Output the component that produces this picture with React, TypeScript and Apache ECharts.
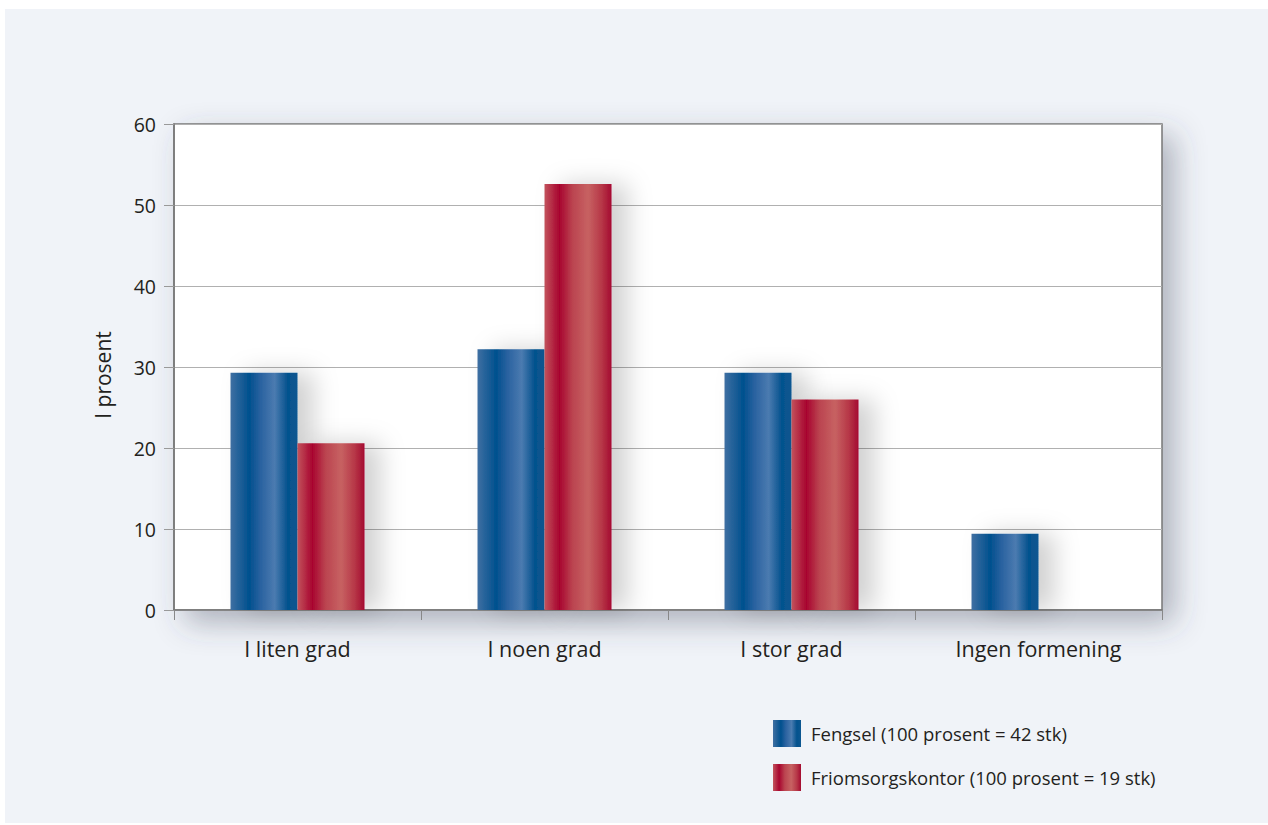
import React, { useEffect, useRef } from "react";
import * as echarts from "echarts";

const categories = ["I liten grad", "I noen grad", "I stor grad", "Ingen formening"];
const fengsel = [29.3, 32.2, 29.3, 9.4];
const friomsorg = [20.6, 52.6, 26.0, 0];
const seriesNames = ["Fengsel (100 prosent = 42 stk)", "Friomsorgskontor (100 prosent = 19 stk)"];
const yAxisTitle = "I prosent";
const yTicks = { min: 0, max: 60, interval: 10 };

const FONT = "'Open Sans', 'Noto Sans', sans-serif";

const blueGrad = new echarts.graphic.LinearGradient(0, 0, 1, 0, [
  { offset: 0, color: "#3f6fa2" },
  { offset: 0.28, color: "#00508e" },
  { offset: 0.45, color: "#2a62a0" },
  { offset: 0.66, color: "#4b7bb0" },
  { offset: 0.85, color: "#04528e" },
  { offset: 1, color: "#0d5791" },
]);
const redGrad = new echarts.graphic.LinearGradient(0, 0, 1, 0, [
  { offset: 0, color: "#c2535c" },
  { offset: 0.22, color: "#a8052f" },
  { offset: 0.42, color: "#bb4450" },
  { offset: 0.65, color: "#c76262" },
  { offset: 0.85, color: "#b73848" },
  { offset: 1, color: "#a40a30" },
]);

export default function App() {
  const ref = useRef<HTMLDivElement>(null);
  useEffect(() => {
    document.body.style.margin = "0";
    const chart = echarts.init(ref.current!, null, { renderer: "svg" });
    chart.setOption({
      animation: false,
      backgroundColor: "#ffffff",
      graphic: [
        {
          type: "rect",
          z: -10,
          silent: true,
          shape: { x: 5, y: 9, width: 1263, height: 814 },
          style: { fill: "#f0f3f8" },
        },
        {
          type: "text",
          x: 103,
          y: 375,
          rotation: Math.PI / 2,
          silent: true,
          style: {
            text: yAxisTitle,
            fontFamily: FONT,
            fontSize: 21,
            fill: "#231f20",
            align: "center",
            verticalAlign: "middle",
          },
        },
      ],
      grid: {
        left: 174,
        top: 124,
        width: 988,
        height: 486,
        show: true,
        backgroundColor: "#ffffff",
        borderColor: "#777777",
        borderWidth: 1.5,
        shadowColor: "rgba(60,70,90,0.38)",
        shadowBlur: 30,
        shadowOffsetX: 12,
        shadowOffsetY: 12,
      },
      legend: {
        orient: "vertical",
        left: 773,
        top: 720,
        padding: 0,
        itemWidth: 28,
        itemHeight: 27,
        itemGap: 17,
        icon: "rect",
        textStyle: { fontFamily: FONT, fontSize: 18.5, color: "#231f20", padding: [0, 0, 0, 5] },
        data: seriesNames,
      },
      xAxis: {
        type: "category",
        data: categories,
        axisLine: { show: true, lineStyle: { color: "#777777", width: 1.5 } },
        axisTick: { show: true, length: 10, lineStyle: { color: "#888888" } },
        axisLabel: { margin: 27, fontFamily: FONT, fontSize: 21.5, color: "#231f20" },
      },
      yAxis: {
        type: "value",
        min: yTicks.min,
        max: yTicks.max,
        interval: yTicks.interval,
        axisLine: { show: true, lineStyle: { color: "#777777", width: 1.5 } },
        axisTick: { show: true, length: 10, lineStyle: { color: "#999999" } },
        axisLabel: { margin: 18, fontFamily: FONT, fontSize: 19.5, color: "#231f20" },
        splitLine: { show: true, lineStyle: { color: "#b0b0b0", width: 1 } },
      },
      series: [
        {
          name: seriesNames[0],
          type: "bar",
          data: fengsel,
          barWidth: 67,
          barGap: "0%",
          itemStyle: {
            color: blueGrad,
            shadowColor: "rgba(0,0,0,0.18)",
            shadowBlur: 24,
            shadowOffsetX: 16,
          },
        },
        {
          name: seriesNames[1],
          type: "bar",
          data: friomsorg,
          barWidth: 67,
          barGap: "0%",
          itemStyle: {
            color: redGrad,
            shadowColor: "rgba(0,0,0,0.18)",
            shadowBlur: 24,
            shadowOffsetX: 16,
          },
        },
      ],
    });
    return () => chart.dispose();
  }, []);
  return <div ref={ref} style={{ width: 1268, height: 825 }} />;
}
